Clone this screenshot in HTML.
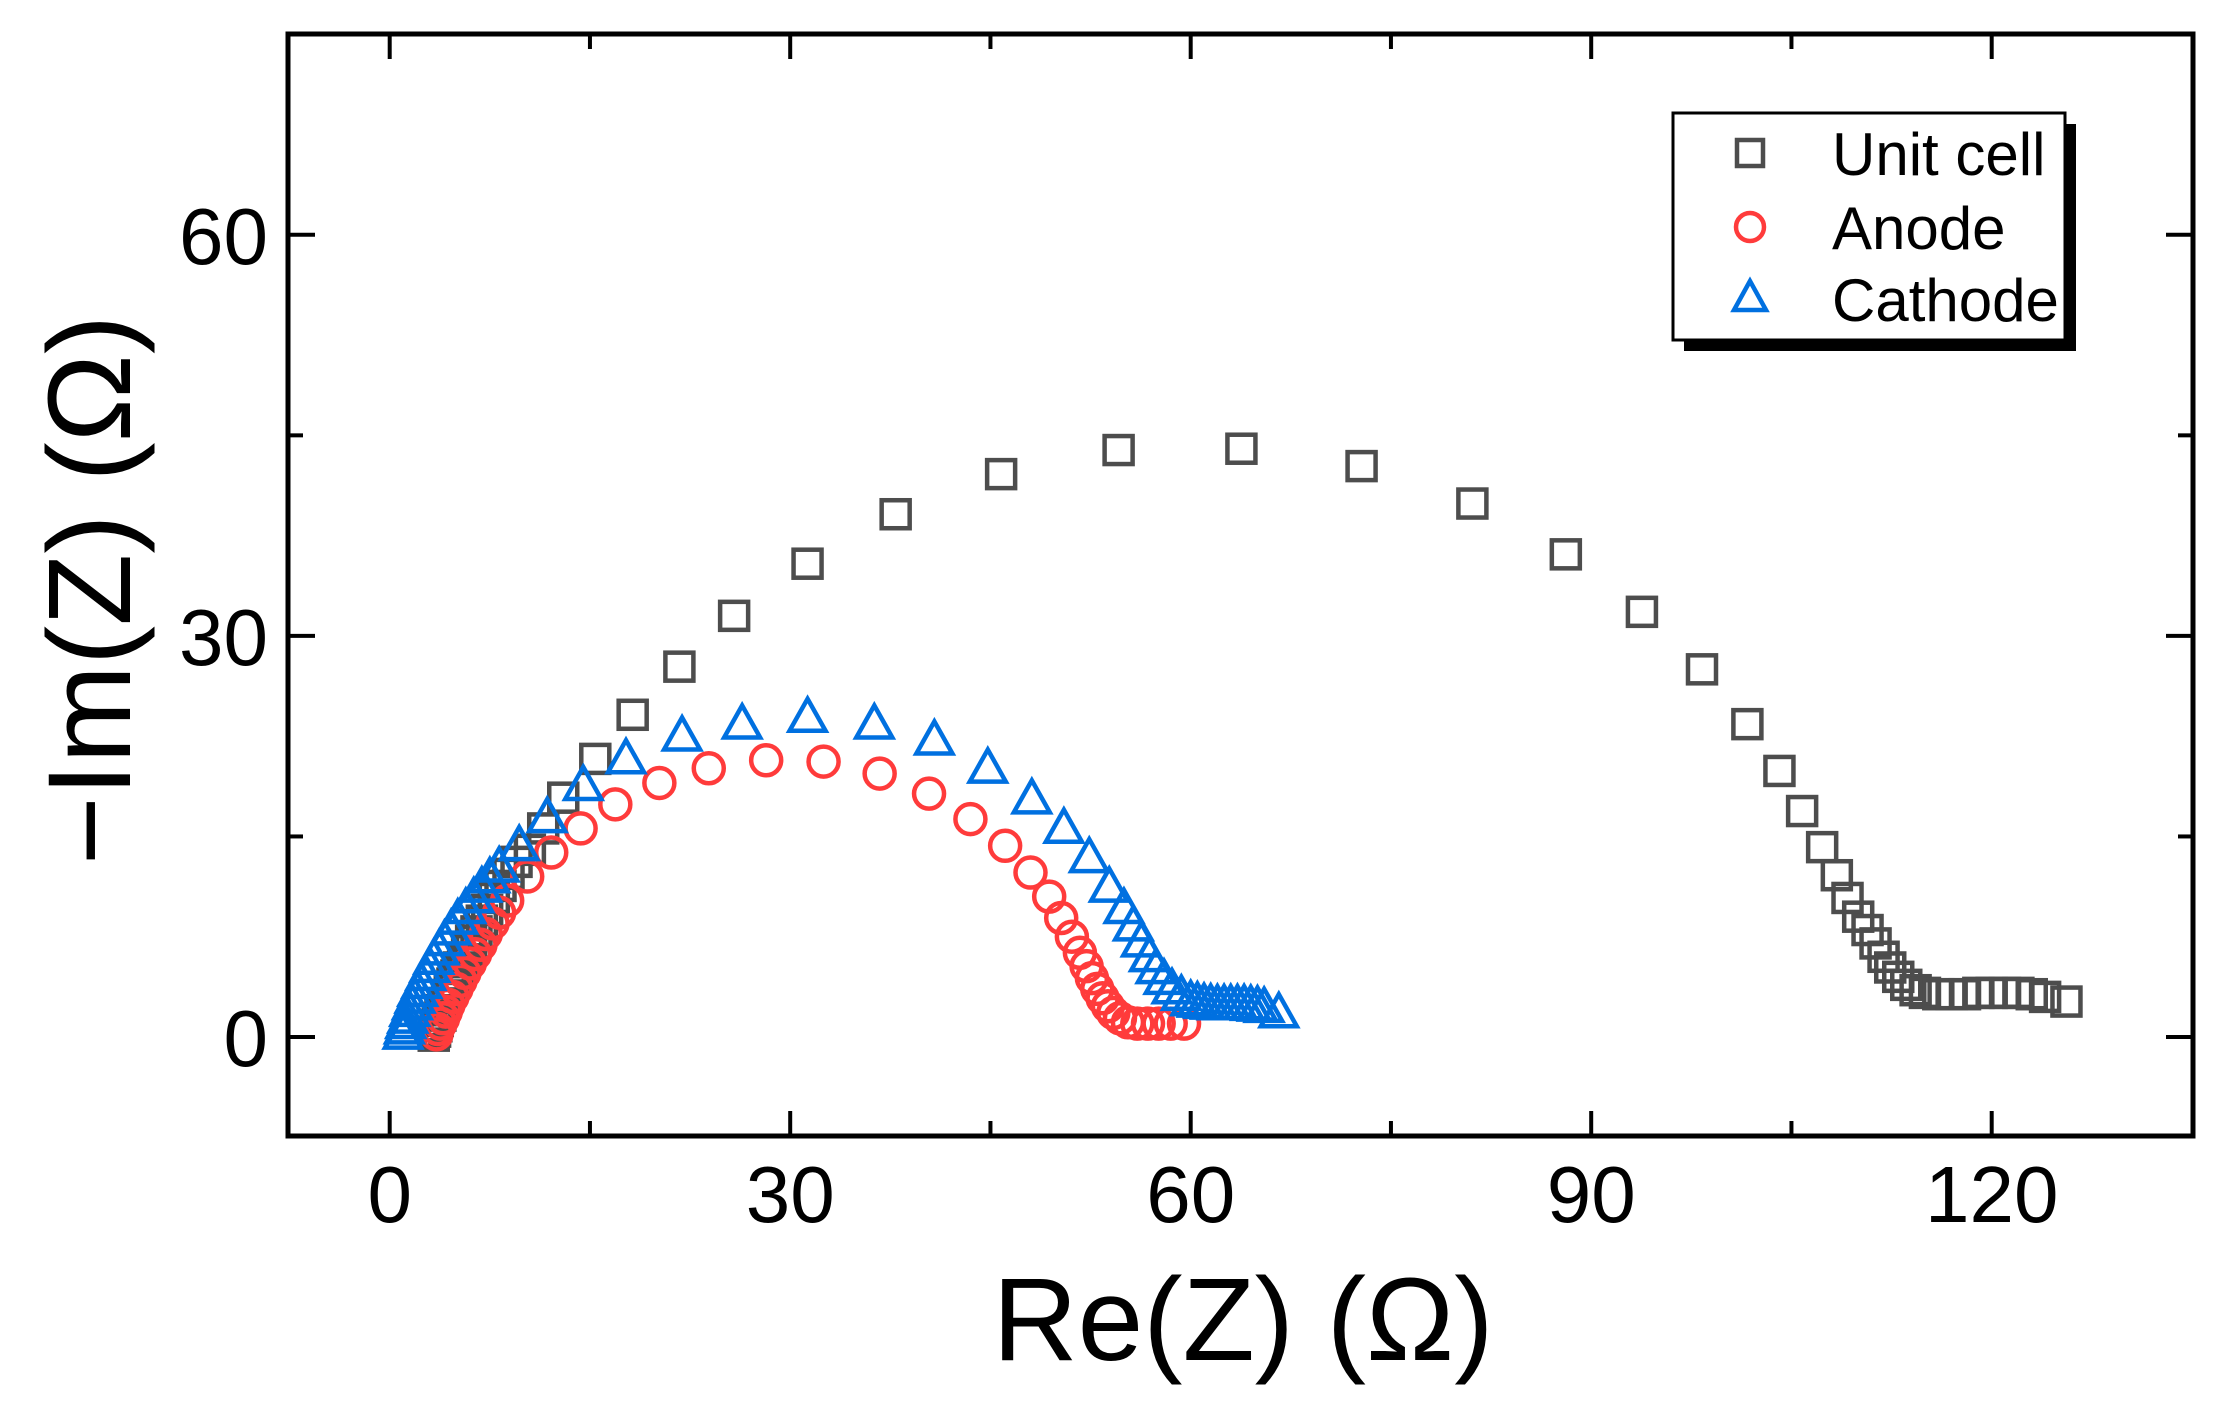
<!DOCTYPE html>
<html><head><meta charset="utf-8"><style>
html,body{margin:0;padding:0;background:#fff;}
svg text{font-family:"Liberation Sans",Arial,sans-serif;}
</style></head><body>
<svg id="chart" width="2222" height="1414" viewBox="0 0 2222 1414" xmlns="http://www.w3.org/2000/svg">
<g id="marks"></g>
<g id="axes"></g>
</svg>
<script>
const unitX=[3.3,3.4,3.5,3.6,3.8,3.9,4.1,4.3,4.5,4.7,5.0,5.2,5.5,5.8,6.1,6.5,6.9,7.3,7.8,8.3,8.9,9.5,10.5,11.5,13,15.4,18.2,21.7,25.8,31.3,37.9,45.8,54.6,63.8,72.8,81.1,88.1,93.8,98.3,101.7,104.1,105.8,107.3,108.4,109.2,110,110.7,111.3,111.9,112.4,113,113.6,114.3,115,116,117,118,119,120,121,122,123,124,125.6];
const unitY=[0.1,0.4,0.8,1.2,1.6,2.0,2.5,3.0,3.5,4.0,4.6,5.2,5.8,6.5,7.2,7.9,8.7,9.5,10.4,11.3,12.2,13.1,14,15.6,17.9,20.8,24.1,27.7,31.5,35.4,39.1,42.1,43.9,44.0,42.7,39.9,36.1,31.8,27.5,23.4,19.9,16.9,14.2,12.1,10.4,9,8,7,6,5.2,4.5,3.9,3.5,3.3,3.2,3.2,3.2,3.3,3.3,3.3,3.3,3.2,3.0,2.65];
const anodeX=[3.5,3.6,3.8,4.0,4.2,4.4,4.7,5.0,5.3,5.6,6.0,6.4,6.8,7.2,7.7,8.2,8.8,10.3,12.1,14.3,16.9,20.2,23.9,28.2,32.5,36.7,40.4,43.5,46.1,48.0,49.4,50.3,51.1,51.7,52.2,52.6,53.0,53.4,53.8,54.2,54.7,55.3,56.0,56.8,57.6,58.5,59.5];
const anodeY=[0.2,0.6,1.0,1.4,1.9,2.4,3.0,3.6,4.2,4.8,5.5,6.2,6.9,7.7,8.5,9.3,10.2,12.0,13.8,15.6,17.4,19.0,20.1,20.7,20.6,19.7,18.2,16.3,14.3,12.3,10.5,8.9,7.5,6.3,5.3,4.4,3.6,2.9,2.3,1.8,1.4,1.1,1.0,1.0,1.0,1.0,1.0];
const cathX=[1.0,1.1,1.2,1.35,1.5,1.7,1.9,2.1,2.4,2.7,3.0,3.3,3.7,4.1,4.6,5.1,5.7,6.3,6.9,7.5,8.2,9.7,11.8,14.5,17.7,21.9,26.4,31.3,36.3,40.8,44.8,48.1,50.5,52.4,53.9,55,55.7,56.3,56.9,57.4,58,58.6,59.3,60,60.5,61,61.5,62,62.5,63,63.5,64,64.5,65,65.5,66.6];
const cathY=[0.1,0.5,0.9,1.3,1.8,2.3,2.8,3.3,3.9,4.5,5.1,5.7,6.4,7.1,7.9,8.7,9.5,10.3,11.1,11.8,12.6,14.2,16.3,18.7,20.7,22.4,23.3,23.8,23.3,22.1,20.0,17.7,15.5,13.3,11.1,9.5,8.2,7,5.9,5,4.2,3.5,3,2.6,2.5,2.4,2.35,2.3,2.3,2.3,2.3,2.3,2.25,2.2,2.1,1.7];
const xTicks=[0,30,60,90,120];
const yTicks=[0,30,60];
const xMinor=[15,45,75,105];
const yMinor=[15,45];

const L=288,R=2193,T=34,B=1136;
const X0=389.7,KX=13.35,Y0=1037,KY=13.37;
function sx(v){return X0+v*KX;}
function sy(v){return Y0-v*KY;}
const NS="http://www.w3.org/2000/svg";
const marks=document.getElementById('marks');
const axes=document.getElementById('axes');
function mk(tag,attrs,parent){const e=document.createElementNS(NS,tag);for(const k in attrs)e.setAttribute(k,attrs[k]);parent.appendChild(e);return e;}

const gU=mk('g',{},marks);


unitX.forEach((v,i)=>{const e=mk('rect',{x:sx(v)-14,y:sy(unitY[i])-14,width:28,height:28,fill:'none',stroke:'#4d4d4d','stroke-width':4.5},gU);

});
const gA=mk('g',{},marks);


anodeX.forEach((v,i)=>{const e=mk('circle',{cx:sx(v),cy:sy(anodeY[i]),r:15,fill:'none',stroke:'#ff3b3b','stroke-width':4.5},gA);

});
const gC=mk('g',{},marks);


cathX.forEach((v,i)=>{const x=sx(v),y=sy(cathY[i]);const e=mk('polygon',{points:`${x},${y-20} ${x-18},${y+12} ${x+18},${y+12}`,fill:'none',stroke:'#0070e0','stroke-width':4.5,'stroke-linejoin':'miter'},gC);

});

const fr=mk('rect',{x:L,y:T,width:R-L,height:B-T,fill:'none',stroke:'#000','stroke-width':5},axes);


xTicks.forEach(v=>{const x=sx(v);
mk('line',{x1:x,y1:B,x2:x,y2:B-25,stroke:'#000','stroke-width':4},axes);
mk('line',{x1:x,y1:T,x2:x,y2:T+25,stroke:'#000','stroke-width':4},axes);
const t=mk('text',{x:x,y:1222,'font-size':80,'text-anchor':'middle'},axes);t.textContent=v;

});
xMinor.forEach(v=>{const x=sx(v);
mk('line',{x1:x,y1:B,x2:x,y2:B-15,stroke:'#000','stroke-width':4},axes);
mk('line',{x1:x,y1:T,x2:x,y2:T+15,stroke:'#000','stroke-width':4},axes);});
yTicks.forEach(v=>{const y=sy(v);
mk('line',{x1:L,y1:y,x2:L+27,y2:y,stroke:'#000','stroke-width':4},axes);
mk('line',{x1:R,y1:y,x2:R-27,y2:y,stroke:'#000','stroke-width':4},axes);
const t=mk('text',{x:268,y:y+29,'font-size':80,'text-anchor':'end'},axes);t.textContent=v;

});
yMinor.forEach(v=>{const y=sy(v);
mk('line',{x1:L,y1:y,x2:L+15,y2:y,stroke:'#000','stroke-width':4},axes);
mk('line',{x1:R,y1:y,x2:R-15,y2:y,stroke:'#000','stroke-width':4},axes);});
</script>
<svg style="position:absolute;left:0;top:0" width="2222" height="1414" xmlns="http://www.w3.org/2000/svg">
<text x="1243" y="1360" font-size="118" text-anchor="middle" font-family="Liberation Sans, sans-serif">Re(Z) (Ω)</text>
<text transform="translate(130,590) rotate(-90)" font-size="118" text-anchor="middle" font-family="Liberation Sans, sans-serif">−Im(Z) (Ω)</text>
<g>
<rect x="1684" y="124" width="392" height="227" fill="#000"/>
<rect x="1673" y="113" width="392" height="227" fill="#fff" stroke="#000" stroke-width="3"/>
<rect x="1737" y="140" width="26" height="26" fill="none" stroke="#4d4d4d" stroke-width="4.5"/>
<circle cx="1750" cy="227" r="14" fill="none" stroke="#ff3b3b" stroke-width="4.5"/>
<polygon points="1750,281 1734,310 1766,310" fill="none" stroke="#0070e0" stroke-width="4.5"/>
<text x="1832" y="175" font-size="60" font-family="Liberation Sans, sans-serif">Unit cell</text>
<text x="1832" y="249" font-size="60" font-family="Liberation Sans, sans-serif">Anode</text>
<text x="1832" y="321" font-size="60" font-family="Liberation Sans, sans-serif">Cathode</text>
</g>
</svg>
</body></html>
